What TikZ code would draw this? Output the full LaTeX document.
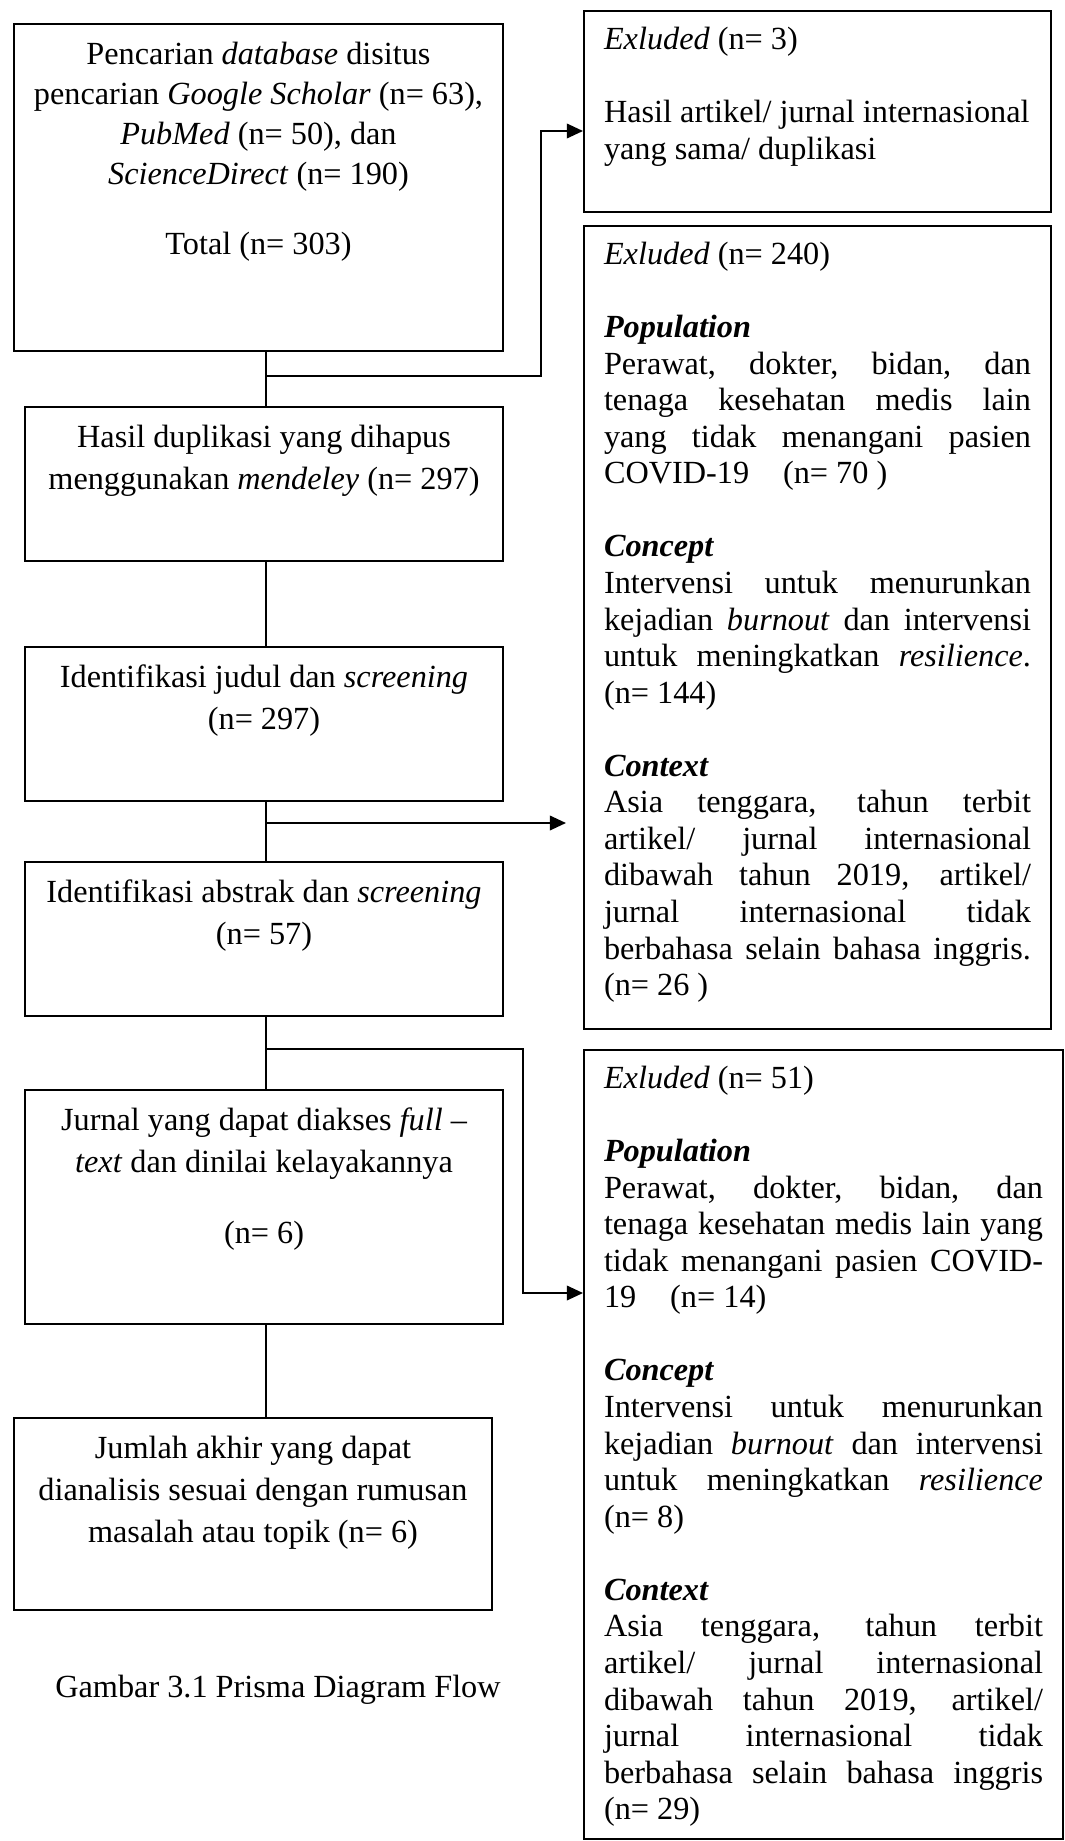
\documentclass[tikz,border=0pt]{standalone}
\usepackage{fontspec}
\setmainfont{Liberation Serif}
\usetikzlibrary{arrows.meta}
\newdimen\pxu \pxu=0.372pt
\newcommand{\lbody}[4]{\parbox[c][#2\pxu][t]{#1\pxu}{\fontsize{12pt}{#3}\selectfont\centering\rule{0pt}{40\pxu}#4}}
\newcommand{\ebody}[3]{\parbox[c][#2\pxu][t]{#1\pxu}{\fontsize{12pt}{13.6pt}\selectfont\raggedright\rule{0pt}{38.5\pxu}#3}}
\newcommand{\jl}[1]{\makebox[\linewidth][s]{#1}}
\newcommand{\hd}[1]{\textbf{\textit{#1}}}
\tikzset{
  bx/.style={draw, line width=0.75pt, inner ysep=0pt, anchor=north west},
  lbox/.style={bx, inner xsep=8\pxu},
  ebox/.style={bx, inner xsep=20\pxu},
  conn/.style={line width=0.75pt},
  arr/.style={conn, -{Triangle[length=6pt,width=5.4pt]}},
  captext/.style={font=\fontsize{12pt}{14pt}\selectfont, anchor=base, inner sep=0pt}
}
\begin{document}
\begin{tikzpicture}[x=0.372pt, y=-0.372pt]
\fill[white] (0,0) rectangle (1065,1841);
\useasboundingbox (0,0) rectangle (1065,1841);

% left column
\node[lbox] (b1) at (13,23) {\lbody{473}{327}{14.88pt}{Pencarian \textit{database} disitus\\
pencarian \textit{Google Scholar} (n= 63),\\
\textit{PubMed} (n= 50), dan\\
\textit{ScienceDirect} (n= 190)\\[30\pxu]
Total (n= 303)}};
\node[lbox] (b2) at (24,406) {\lbody{462}{154}{15.62pt}{Hasil duplikasi yang dihapus\\
menggunakan \textit{mendeley} (n= 297)}};
\node[lbox] (b3) at (24,646) {\lbody{462}{154}{15.62pt}{Identifikasi judul dan \textit{screening}\\
(n= 297)}};
\node[lbox] (b4) at (24,861) {\lbody{462}{154}{15.62pt}{Identifikasi abstrak dan \textit{screening}\\
(n= 57)}};
\node[lbox] (b5) at (24,1089) {\lbody{462}{234}{15.62pt}{Jurnal yang dapat diakses \textit{full} –\\
\textit{text} dan dinilai kelayakannya\\[29\pxu]
(n= 6)}};
\node[lbox] (b6) at (13,1417) {\lbody{462}{192}{15.62pt}{Jumlah akhir yang dapat\\
dianalisis sesuai dengan rumusan\\
masalah atau topik (n= 6)}};
\node[captext] (cap) at (278,1697) {Gambar 3.1 Prisma Diagram Flow};

% right column
\node[ebox] (e1) at (583,10) {\ebody{427}{201}{\textit{Exluded} (n= 3)\\[36.55\pxu]
Hasil artikel/ jurnal internasional\\
yang sama/ duplikasi}};
\node[ebox] (e2) at (583,225) {\ebody{427}{803}{\textit{Exluded} (n= 240)\\[36.55\pxu]
\hd{Population}\\
\jl{Perawat, dokter, bidan, dan}\\
\jl{tenaga kesehatan medis lain}\\
\jl{yang tidak menangani pasien}\\
COVID-19\hspace*{34\pxu}(n= 70 )\\[36.55\pxu]
\hd{Concept}\\
\jl{Intervensi untuk menurunkan}\\
\jl{kejadian \textit{burnout} dan intervensi}\\
\jl{untuk meningkatkan \textit{resilience}.}\\
(n= 144)\\[36.55\pxu]
\hd{Context}\\
\jl{Asia tenggara, tahun terbit}\\
\jl{artikel/ jurnal internasional}\\
\jl{dibawah tahun 2019, artikel/}\\
\jl{jurnal internasional tidak}\\
\jl{berbahasa selain bahasa inggris.}\\
(n= 26 )}};
\node[ebox] (e3) at (583,1049) {\ebody{439}{789}{\textit{Exluded} (n= 51)\\[36.55\pxu]
\hd{Population}\\
\jl{Perawat, dokter, bidan, dan}\\
\jl{tenaga kesehatan medis lain yang}\\
\jl{tidak menangani pasien COVID-}\\
19\hspace*{34\pxu}(n= 14)\\[36.55\pxu]
\hd{Concept}\\
\jl{Intervensi untuk menurunkan}\\
\jl{kejadian \textit{burnout} dan intervensi}\\
\jl{untuk meningkatkan \textit{resilience}}\\
(n= 8)\\[36.55\pxu]
\hd{Context}\\
\jl{Asia tenggara, tahun terbit}\\
\jl{artikel/ jurnal internasional}\\
\jl{dibawah tahun 2019, artikel/}\\
\jl{jurnal internasional tidak}\\
\jl{berbahasa selain bahasa inggris}\\
(n= 29)}};

% spine
\coordinate (sp) at (266,0);
\draw[conn] (b1.south -| sp) -- (b2.north -| sp);
\draw[conn] (b2.south -| sp) -- (b3.north -| sp);
\draw[conn] (b3.south -| sp) -- (b4.north -| sp);
\draw[conn] (b4.south -| sp) -- (b5.north -| sp);
\draw[conn] (b5.south -| sp) -- (b6.north -| sp);

% branches
\coordinate (j1) at (266,376);
\coordinate (k1) at (541,131);
\draw[arr] (j1) -| (k1) -- (k1 -| e1.west);
\coordinate (j2) at (266,823);
\coordinate (t2) at (566,823);
\draw[arr] (j2) -- (t2);
\coordinate (j3) at (266,1049);
\coordinate (k3) at (523,1293);
\draw[arr] (j3) -| (k3) -- (k3 -| e3.west);
\end{tikzpicture}
\end{document}
